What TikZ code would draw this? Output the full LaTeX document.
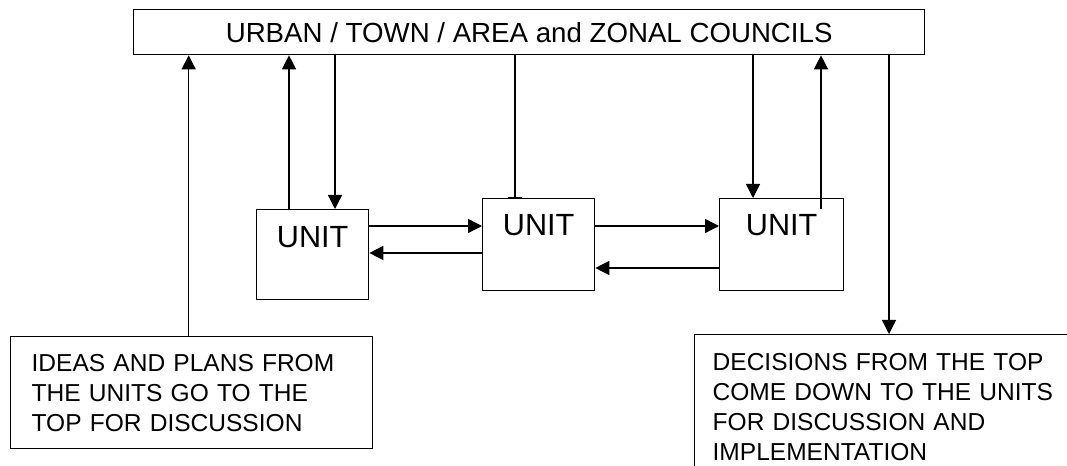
\documentclass[tikz,border=0pt]{standalone}
\usepackage{fontspec}
\setmainfont{Liberation Sans}
\usetikzlibrary{arrows.meta}

\begin{document}
\begin{tikzpicture}
  [x=0.75pt,y=0.75pt,line width=1pt,
   every node/.style={draw,inner sep=0pt,anchor=north west},
   bigbox/.style={font=\fontsize{20.75pt}{24pt}\selectfont},
   unitbox/.style={font=\fontsize{23pt}{27pt}\selectfont,text height=27.75pt,text depth=41.25pt},
   notebox/.style={font=\fontsize{18.4pt}{22.5pt}\selectfont,align=left},
   arr/.style={-{Triangle[length=10.5pt,width=10.5pt]}}]
  \useasboundingbox (0,0) rectangle (1067,-466);
  \clip (0,0) rectangle (1067,-466);

  \node[bigbox,minimum width=593.25pt,minimum height=33.75pt] (top) at (133,-9) {URBAN / TOWN / AREA and ZONAL COUNCILS};
  \node[unitbox,minimum width=84pt,text height=28.25pt,text depth=39pt] (lunit) at (256,-209) {UNIT};
  \node[unitbox,minimum width=84pt] (munit) at (482,-198) {UNIT};
  \node[unitbox,minimum width=93pt] (runit) at (719,-198) {UNIT};
  \node[notebox,text width=240pt,inner xsep=15.75pt,minimum height=84pt] (ideas) at (10,-336)
    {IDEAS AND PLANS FROM\\THE UNITS GO TO THE\\TOP FOR DISCUSSION};
  \node[notebox,text width=273pt,inner xsep=13.5pt,inner ysep=14.25pt] (decis) at (694,-334)
    {DECISIONS FROM THE TOP\\COME DOWN TO THE UNITS\\FOR DISCUSSION AND\\IMPLEMENTATION};

  % where the lines meet the boxes
  \coordinate (c1) at ([xshift=-2.25pt]ideas.north);
  \coordinate (c2) at ([xshift=24.75pt]lunit.north west);
  \coordinate (c3) at ([xshift=59.25pt]lunit.north west);
  \coordinate (c4) at ([xshift=24.75pt]munit.north west);
  \coordinate (c5) at ([xshift=25.5pt]runit.north west);
  \coordinate (c6) at ([xshift=76.5pt,yshift=-8.25pt]runit.north west);
  \coordinate (c7) at ([xshift=146.25pt]decis.north west);
  \coordinate (h1) at ([yshift=-12.75pt]lunit.north east);
  \coordinate (h2) at ([yshift=-33pt]lunit.north east);
  \coordinate (h3) at ([yshift=-21pt]munit.north east);
  \coordinate (h4) at ([yshift=-52.5pt]munit.north east);

  \draw[arr] (c1) -- (c1 |- top.south);
  \draw[arr] (c2) -- (c2 |- top.south);
  \draw[arr] (c3 |- top.south) -- (c3);
  \draw[-{Bar[width=10pt]}] (c4 |- top.south) -- (c4);
  \draw[arr] (c5 |- top.south) -- (c5);
  \draw[arr] (c6) -- (c6 |- top.south);
  \draw[arr] (c7 |- top.south) -- (c7);
  \draw[arr] (h1) -- (h1 -| munit.west);
  \draw[arr] (h2 -| munit.west) -- (h2);
  \draw[arr] (h3) -- (h3 -| runit.west);
  \draw[arr] (h4 -| runit.west) -- (h4);
\end{tikzpicture}
\end{document}
